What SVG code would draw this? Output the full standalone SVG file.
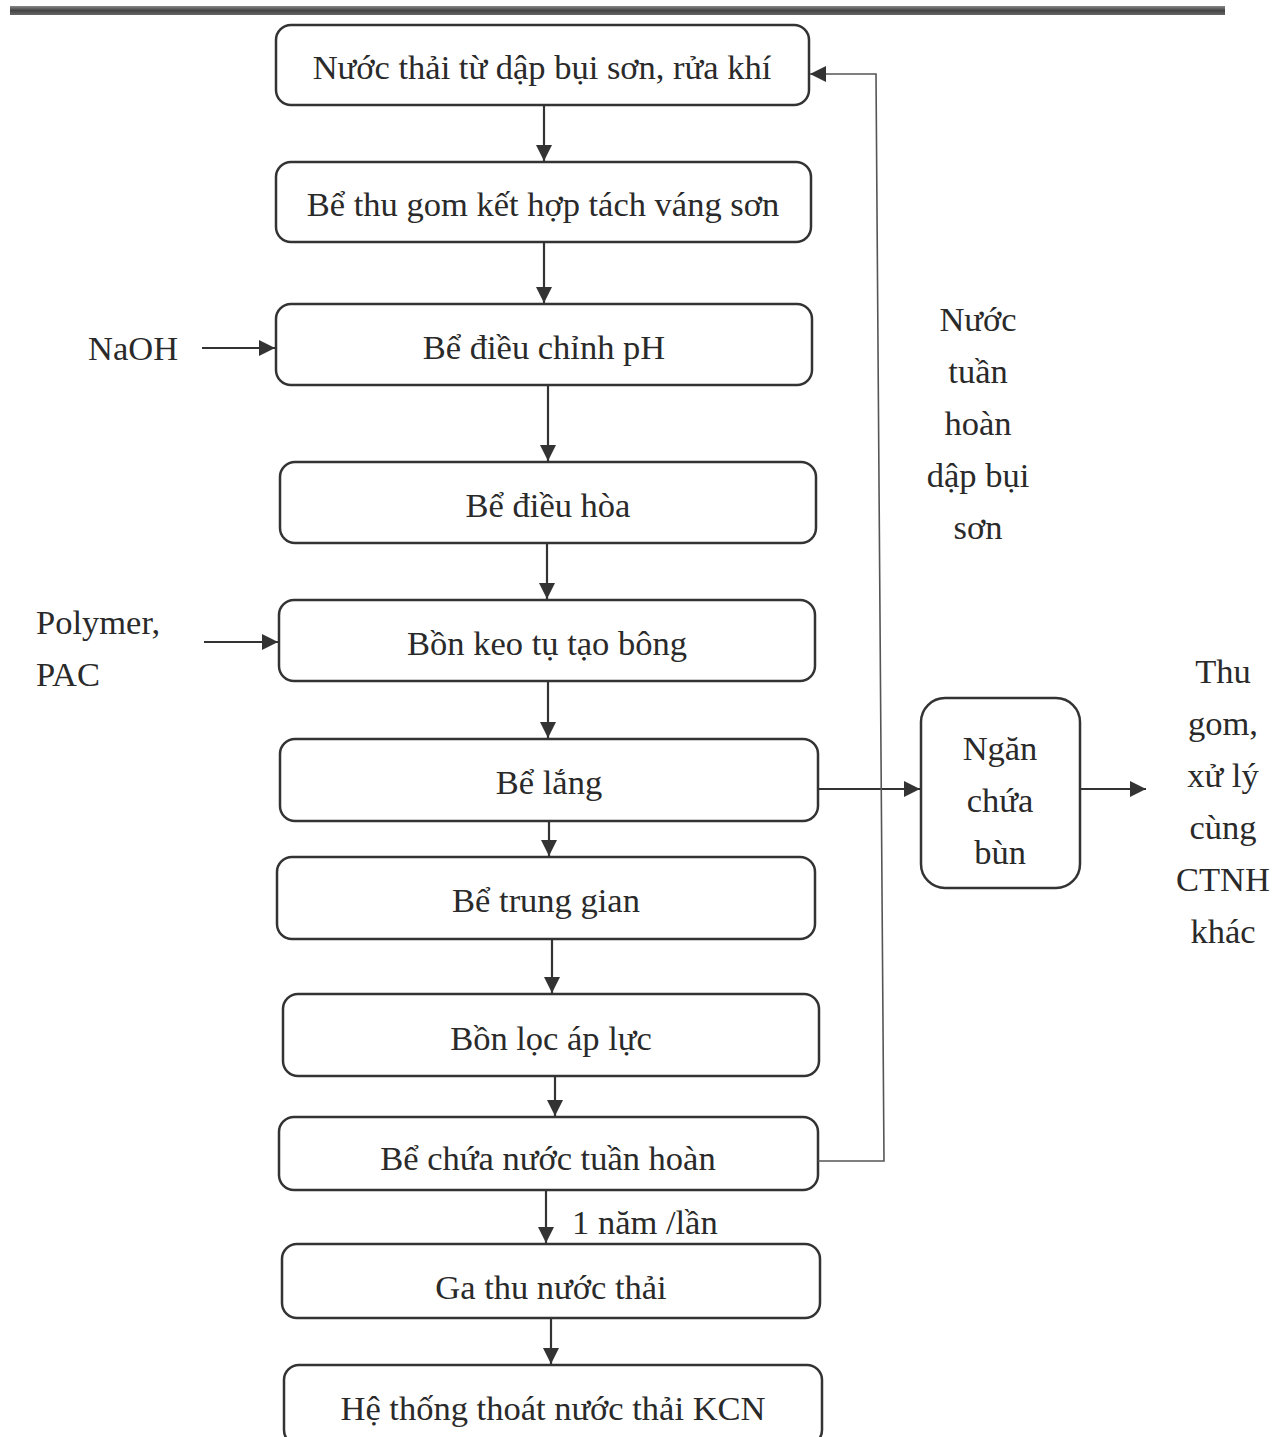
<svg xmlns="http://www.w3.org/2000/svg" width="1285" height="1437" viewBox="0 0 1285 1437">
<defs>
<marker id="ah" viewBox="0 0 10 10" refX="10" refY="5" markerWidth="16" markerHeight="16" markerUnits="userSpaceOnUse" orient="auto">
<path d="M0,0 L10,5 L0,10 Z" fill="#333"/>
</marker>
<linearGradient id="bar" x1="0" y1="0" x2="0" y2="1">
<stop offset="0" stop-color="#888"/>
<stop offset="0.5" stop-color="#444"/>
<stop offset="1" stop-color="#666"/>
</linearGradient>
</defs>
<style>
.box{fill:#fff;stroke:#333;stroke-width:2.5}
.t{font-family:"Liberation Serif","Times New Roman",serif;font-size:34.5px;fill:#2a2a2a;text-anchor:middle}
.tl{font-family:"Liberation Serif","Times New Roman",serif;font-size:34.5px;fill:#2a2a2a}
.c{fill:none;stroke:#333;stroke-width:2.2}
.thin{fill:none;stroke:#555;stroke-width:1.6}
</style>
<rect x="0" y="0" width="1285" height="1437" fill="#fff"/>
<rect x="10" y="6" width="1215" height="9" fill="url(#bar)"/>

<g id="n1"><rect class="box" x="276" y="25" width="533" height="80" rx="15"/><text class="t" x="542" y="79">Nước thải từ dập bụi sơn, rửa khí</text></g>
<g id="n2"><rect class="box" x="276" y="162" width="535" height="80" rx="15"/><text class="t" x="543" y="216">Bể thu gom kết hợp tách váng sơn</text></g>
<g id="n3"><rect class="box" x="276" y="304" width="536" height="81" rx="15"/><text class="t" x="544" y="359">Bể điều chỉnh pH</text></g>
<g id="n4"><rect class="box" x="280" y="462" width="536" height="81" rx="15"/><text class="t" x="548" y="517">Bể điều hòa</text></g>
<g id="n5"><rect class="box" x="279" y="600" width="536" height="81" rx="15"/><text class="t" x="547" y="655">Bồn keo tụ tạo bông</text></g>
<g id="n6"><rect class="box" x="280" y="739" width="538" height="82" rx="15"/><text class="t" x="549" y="794">Bể lắng</text></g>
<g id="n7"><rect class="box" x="277" y="857" width="538" height="82" rx="15"/><text class="t" x="546" y="912">Bể trung gian</text></g>
<g id="n8"><rect class="box" x="283" y="994" width="536" height="82" rx="15"/><text class="t" x="551" y="1050">Bồn lọc áp lực</text></g>
<g id="n9"><rect class="box" x="279" y="1117" width="539" height="73" rx="15"/><text class="t" x="548" y="1170">Bể chứa nước tuần hoàn</text></g>
<g id="n10"><rect class="box" x="282" y="1244" width="538" height="74" rx="15"/><text class="t" x="551" y="1299">Ga thu nước thải</text></g>
<g id="n11"><rect class="box" x="284" y="1365" width="538" height="80" rx="15"/><text class="t" x="553" y="1420">Hệ thống thoát nước thải KCN</text></g>
<g id="n12"><rect class="box" x="921" y="698" width="159" height="190" rx="24"/>
<text class="t" x="1000" y="760">Ngăn</text><text class="t" x="1000" y="812">chứa</text><text class="t" x="1000" y="864">bùn</text></g>

<g id="labels">
<text class="tl" x="88" y="360">NaOH</text>
<text class="tl" x="36" y="634">Polymer,</text>
<text class="tl" x="36" y="686">PAC</text>
<text class="t" x="978" y="331">Nước</text>
<text class="t" x="978" y="383">tuần</text>
<text class="t" x="978" y="435">hoàn</text>
<text class="t" x="978" y="487">dập bụi</text>
<text class="t" x="978" y="539">sơn</text>
<text class="t" x="1223" y="683">Thu</text>
<text class="t" x="1223" y="735">gom,</text>
<text class="t" x="1223" y="787">xử lý</text>
<text class="t" x="1223" y="839">cùng</text>
<text class="t" x="1223" y="891">CTNH</text>
<text class="t" x="1223" y="943">khác</text>
<text class="tl" x="572" y="1234">1 năm /lần</text>
</g>

<g id="connectors">
<line class="c" x1="544" y1="105" x2="544" y2="161" marker-end="url(#ah)"/>
<line class="c" x1="544" y1="242" x2="544" y2="303" marker-end="url(#ah)"/>
<line class="c" x1="548" y1="385" x2="548" y2="461" marker-end="url(#ah)"/>
<line class="c" x1="547" y1="543" x2="547" y2="599" marker-end="url(#ah)"/>
<line class="c" x1="548" y1="681" x2="548" y2="738" marker-end="url(#ah)"/>
<line class="c" x1="549" y1="821" x2="549" y2="856" marker-end="url(#ah)"/>
<line class="c" x1="552" y1="939" x2="552" y2="993" marker-end="url(#ah)"/>
<line class="c" x1="555" y1="1076" x2="555" y2="1116" marker-end="url(#ah)"/>
<line class="c" x1="546" y1="1190" x2="546" y2="1243" marker-end="url(#ah)"/>
<line class="c" x1="551" y1="1318" x2="551" y2="1364" marker-end="url(#ah)"/>
<line class="c" x1="202" y1="348" x2="275" y2="348" marker-end="url(#ah)"/>
<line class="c" x1="204" y1="642" x2="278" y2="642" marker-end="url(#ah)"/>
<line class="c" x1="818" y1="789" x2="920" y2="789" marker-end="url(#ah)"/>
<line class="c" x1="1080" y1="789" x2="1146" y2="789" marker-end="url(#ah)"/>
<polyline class="thin" points="818,1161 884,1161 876,74 810,74" marker-end="url(#ah)"/>
</g>
</svg>
